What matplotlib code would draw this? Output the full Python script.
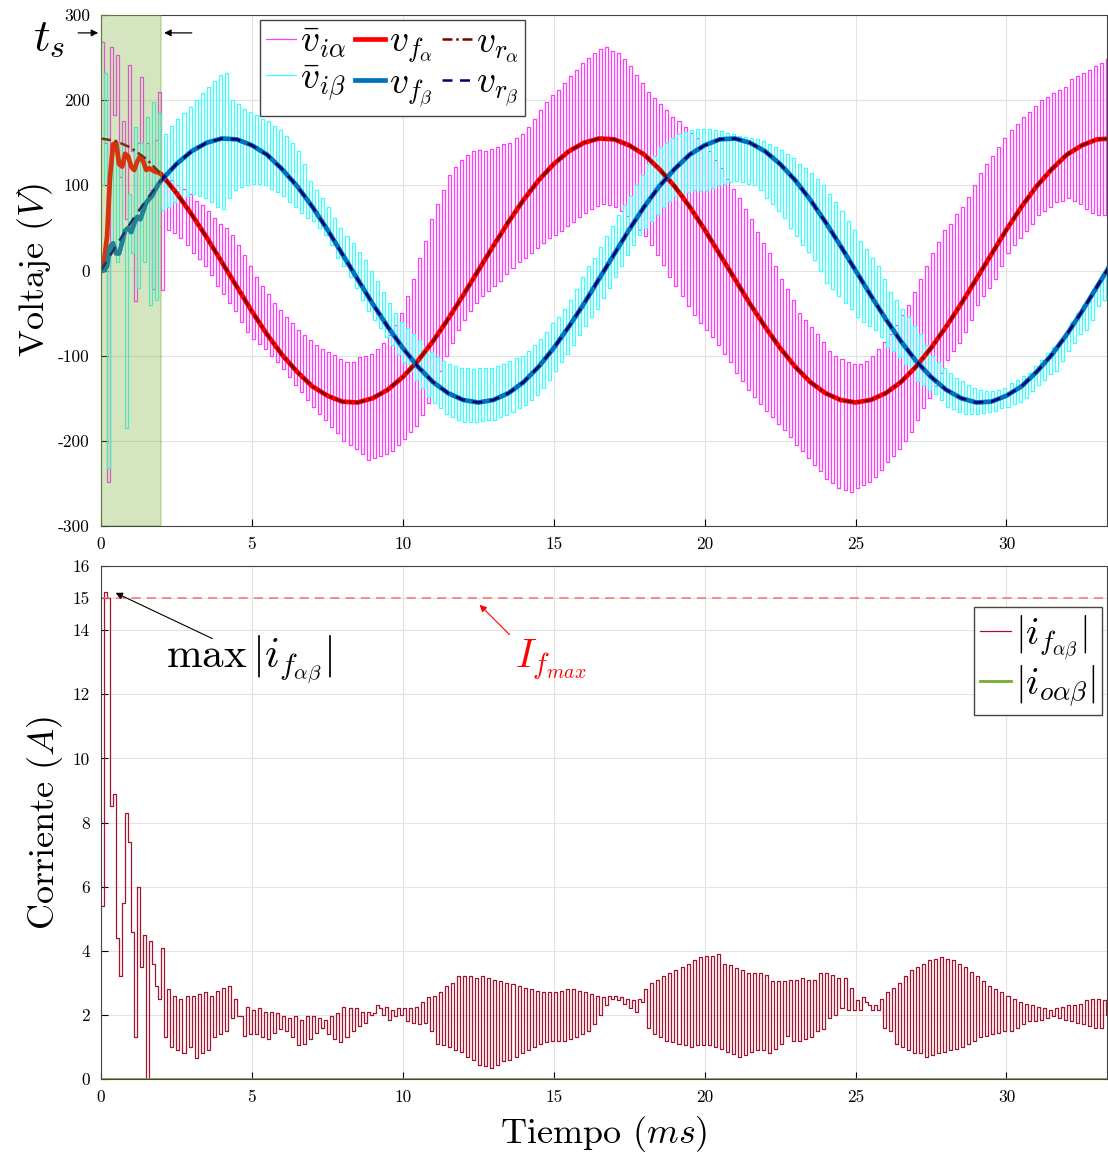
import numpy as np
import matplotlib
matplotlib.use("Agg")
import matplotlib.pyplot as plt

plt.rcParams["font.family"] = "serif"
plt.rcParams["font.serif"] = ["cmr10"]
plt.rcParams["mathtext.fontset"] = "cm"
plt.rcParams["axes.unicode_minus"] = False

# sample period of the inverter signals (ms)
sample_ms = 0.1

# reference voltages, read every 0.5 ms
t_ref = np.arange(0, 34.0, 0.5)
vr_alpha = [155, 152, 144, 131, 113, 91, 66, 39, 10, -19,
            -48, -75, -99, -119, -136, -147, -154, -155, -150, -140,
            -125, -106, -83, -57, -29, 0, 29, 57, 83, 106,
            125, 140, 150, 155, 154, 147, 136, 119, 99, 75,
            48, 19, -10, -39, -66, -91, -113, -131, -144, -152,
            -155, -152, -144, -131, -113, -91, -66, -39, -10, 19,
            48, 75, 99, 119, 136, 147, 154, 155]
vr_beta = [0, 29, 57, 83, 106, 125, 140, 150, 155, 154,
           147, 136, 119, 99, 75, 48, 19, -10, -39, -66,
           -91, -113, -131, -144, -152, -155, -152, -144, -131, -113,
           -91, -66, -39, -10, 19, 48, 75, 99, 119, 136,
           147, 154, 155, 150, 140, 125, 106, 83, 57, 29,
           0, -29, -57, -83, -106, -125, -140, -150, -155, -154,
           -147, -136, -119, -99, -75, -48, -19, 10]

# filter voltages during the start-up transient (0 - 1.9 ms, every 0.1 ms)
t_start = np.arange(0, 2.0, 0.1)
vf_alpha_start = [0, 10, 40, 110, 148, 150, 125, 122, 137, 134,
                  122, 118, 128, 134, 128, 118, 120, 118, 116, 115]
vf_beta_start = [0, 0, 5, 28, 32, 20, 20, 33, 47, 50,
                 45, 55, 63, 60, 70, 80, 84, 88, 95, 101]

# averaged inverter voltages, one value per sample (rows of 1 ms)
vi_alpha = [
    268, 150, -248, 262, 183, 253, 110, 175, 60, 241,
    140, -36, 150, 227, 120, 150, 95, -22, 153, 210,
    -23, 112, 47, 106, 44, 100, 38, 96, 30, 90,
    20, 82, 14, 77, 5, 70, -5, 62, -18, 55,
    -28, 50, -38, 42, -48, 30, -60, 18, -72, 5,
    -80, -8, -86, -18, -92, -28, -100, -38, -108, -46,
    -116, -55, -125, -62, -135, -70, -143, -76, -152, -82,
    -160, -88, -168, -92, -176, -96, -184, -99, -191, -104,
    -200, -108, -205, -108, -210, -102, -215, -100, -222, -98,
    -220, -92, -218, -85, -216, -76, -212, -64, -205, -50,
    -198, -30, -190, -10, -182, 15, -170, 35, -155, 60,
    -135, 78, -118, 95, -100, 112, -85, 122, -70, 130,
    -58, 136, -47, 140, -38, 142, -30, 140, -24, 143,
    -18, 145, -12, 148, -4, 150, 3, 155, 10, 160,
    15, 168, 20, 178, 26, 188, 32, 198, 38, 206,
    42, 212, 46, 220, 52, 228, 57, 236, 63, 244,
    68, 250, 72, 255, 76, 260, 78, 262, 77, 258,
    75, 255, 70, 248, 64, 240, 57, 230, 48, 220,
    40, 210, 30, 203, 18, 196, 6, 188, -8, 180,
    -18, 175, -30, 168, -42, 162, -52, 155, -62, 148,
    -70, 140, -78, 130, -88, 120, -98, 108, -108, 96,
    -120, 85, -130, 72, -140, 60, -148, 45, -157, 32,
    -165, 20, -172, 5, -180, -10, -187, -22, -195, -35,
    -205, -50, -212, -58, -220, -66, -228, -75, -236, -84,
    -245, -95, -250, -100, -255, -104, -258, -108, -260, -110,
    -255, -110, -252, -106, -248, -100, -242, -92, -234, -84,
    -225, -75, -218, -64, -210, -52, -200, -40, -190, -25,
    -175, -10, -162, 5, -150, 20, -136, 34, -120, 48,
    -105, 55, -95, 66, -85, 75, -72, 86, -58, 100,
    -40, 115, -30, 125, -20, 135, -10, 145, 5, 155,
    20, 165, 30, 172, 38, 180, 46, 186, 55, 193,
    65, 200, 70, 204, 75, 208, 80, 212, 82, 216,
    85, 225, 82, 228, 78, 232, 72, 236, 68, 240,
    65, 244, 65, 248,
]
vi_beta = [
    100, 232, -232, 30, 140, 10, 150, 40, -185, 90,
    20, 168, -20, 150, 10, 180, -40, 198, -35, 185,
    71, 160, 75, 170, 80, 178, 85, 185, 88, 192,
    90, 200, 88, 208, 85, 215, 80, 222, 75, 230,
    72, 232, 85, 200, 95, 195, 98, 190, 100, 186,
    102, 182, 102, 178, 100, 175, 96, 170, 92, 165,
    88, 158, 80, 150, 75, 140, 68, 125, 62, 105,
    58, 95, 50, 85, 42, 75, 30, 62, 15, 50,
    5, 40, -8, 32, -20, 22, -35, 12, -48, 0,
    -58, -12, -68, -25, -78, -38, -88, -50, -98, -60,
    -108, -68, -118, -75, -128, -82, -138, -90, -148, -96,
    -155, -102, -162, -106, -168, -110, -172, -112, -176, -115,
    -178, -115, -178, -116, -178, -115, -177, -115, -176, -114,
    -175, -112, -172, -110, -170, -106, -166, -103, -162, -100,
    -158, -95, -152, -88, -146, -80, -138, -72, -128, -62,
    -118, -55, -108, -45, -98, -35, -88, -22, -76, -8,
    -65, 5, -55, 15, -45, 28, -32, 40, -20, 52,
    -8, 65, 5, 77, 18, 88, 30, 100, 42, 112,
    50, 125, 58, 135, 66, 145, 74, 150, 82, 155,
    88, 160, 90, 163, 92, 165, 94, 166, 95, 166,
    95, 166, 97, 165, 100, 164, 102, 162, 104, 160,
    105, 158, 104, 157, 102, 156, 100, 154, 94, 152,
    85, 148, 78, 145, 70, 141, 62, 137, 50, 132,
    40, 125, 30, 120, 22, 114, 12, 108, 0, 100,
    -15, 90, -22, 80, -30, 70, -38, 58, -45, 48,
    -55, 35, -60, 25, -65, 15, -70, 5, -78, -10,
    -90, -25, -95, -35, -102, -45, -110, -55, -118, -65,
    -130, -75, -135, -88, -140, -100, -145, -108, -152, -115,
    -160, -120, -163, -126, -166, -130, -168, -135, -168, -138,
    -168, -140, -167, -141, -166, -141, -165, -140, -162, -138,
    -160, -132, -157, -128, -154, -124, -150, -120, -142, -112,
    -135, -105, -128, -97, -122, -90, -118, -85, -106, -75,
    -95, -60, -85, -50, -75, -40, -70, -35, -58, -20,
    -42, -8, -35, 5,
]

# filter current magnitude, one value per sample (rows of 1 ms)
if_mag = [
    5.4, 15.2, 15.0, 8.5, 8.9, 4.4, 3.2, 5.5, 8.3, 7.4,
    4.6, 1.3, 6.0, 3.5, 4.5, 0.0, 4.3, 3.6, 2.9, 2.5,
    4.1, 1.3, 2.8, 1.0, 2.6, 0.9, 2.5, 0.8, 2.6, 1.0,
    2.6, 0.65, 2.65, 0.8, 2.7, 0.9, 2.6, 1.3, 2.75, 1.4,
    2.85, 1.5, 2.9, 1.9, 2.5, 1.95, 1.95, 1.35, 2.25, 1.4,
    2.15, 1.4, 2.2, 1.3, 2.1, 1.25, 2.1, 1.45, 2.05, 1.55,
    1.95, 1.5, 1.9, 1.3, 1.95, 1.05, 1.85, 1.1, 1.95, 1.25,
    1.95, 1.45, 1.9, 1.6, 1.85, 1.4, 1.95, 1.25, 2.05, 1.15,
    2.25, 1.3, 2.2, 1.5, 2.2, 1.65, 2.1, 1.75, 2.1, 2.0,
    2.05, 2.3, 2.2, 2.0, 2.25, 1.85, 2.15, 1.95, 2.2, 2.0,
    2.2, 1.8, 2.2, 1.75, 2.25, 1.7, 2.4, 1.75, 2.55, 1.5,
    2.6, 1.1, 2.7, 1.05, 2.9, 1.0, 3.0, 0.9, 3.2, 0.85,
    3.2, 0.7, 3.2, 0.6, 3.15, 0.45, 3.2, 0.4, 3.15, 0.35,
    3.1, 0.45, 3.05, 0.55, 3.0, 0.6, 2.95, 0.7, 2.9, 0.8,
    2.85, 0.9, 2.8, 1.0, 2.75, 1.1, 2.7, 1.15, 2.7, 1.2,
    2.7, 1.2, 2.75, 1.2, 2.8, 1.25, 2.8, 1.3, 2.75, 1.4,
    2.7, 1.5, 2.65, 1.7, 2.6, 2.0, 2.55, 2.3, 2.6, 2.5,
    2.6, 2.45, 2.55, 2.35, 2.5, 2.2, 2.45, 2.1, 2.5, 2.4,
    2.8, 1.6, 3.0, 1.4, 3.1, 1.3, 3.2, 1.2, 3.3, 1.15,
    3.4, 1.1, 3.5, 1.05, 3.6, 1.0, 3.7, 1.05, 3.8, 1.05,
    3.85, 1.05, 3.85, 1.0, 3.9, 0.95, 3.6, 0.85, 3.55, 0.78,
    3.45, 0.7, 3.4, 0.75, 3.3, 0.85, 3.3, 0.9, 3.3, 0.9,
    3.25, 0.8, 3.05, 0.95, 3.05, 1.1, 3.05, 1.35, 3.1, 1.2,
    3.1, 1.2, 3.15, 1.25, 3.1, 1.3, 3.1, 1.5, 3.3, 1.55,
    3.3, 1.9, 3.25, 2.0, 3.15, 2.2, 3.15, 2.15, 2.85, 2.15,
    2.45, 2.15, 2.55, 2.4, 2.3, 2.15, 2.3, 2.15, 2.5, 1.6,
    2.7, 1.5, 2.85, 1.1, 3.0, 1.0, 3.2, 0.9, 3.4, 0.8,
    3.5, 0.8, 3.6, 0.7, 3.7, 0.75, 3.75, 0.8, 3.8, 0.85,
    3.75, 0.9, 3.7, 0.95, 3.6, 1.0, 3.5, 1.1, 3.35, 1.2,
    3.2, 1.3, 3.05, 1.35, 2.9, 1.4, 2.8, 1.45, 2.7, 1.5,
    2.6, 1.5, 2.5, 1.6, 2.4, 1.7, 2.35, 1.8, 2.3, 1.8,
    2.25, 1.85, 2.2, 1.9, 2.15, 1.95, 2.2, 1.9, 2.25, 1.85,
    2.3, 1.8, 2.3, 1.75, 2.35, 1.7, 2.45, 1.65, 2.5, 1.6,
    2.5, 1.6, 2.45, 2.0,
]
# output current magnitude stays at zero
io_mag = [0.0] * len(if_mag)

if_max = 15
t_settle = 2.0
t_end = 33.33

t_samp = np.arange(len(vi_alpha)) * sample_ms
t_ref = t_ref[: len(vr_alpha)]
after = t_ref >= t_settle
t_f = np.concatenate([t_start, t_ref[after]])
vf_alpha = np.concatenate([vf_alpha_start, np.array(vr_alpha)[after]])
vf_beta = np.concatenate([vf_beta_start, np.array(vr_beta)[after]])

fig = plt.figure(figsize=(11.08, 11.55), dpi=100)
W, H = 1108, 1155
ax1 = fig.add_axes([101 / W, 1 - 526 / H, 1006 / W, 511 / H])
ax2 = fig.add_axes([101 / W, 1 - 1079 / H, 1006 / W, 513 / H])

for ax in (ax1, ax2):
    ax.grid(True, color="#e3e3e3", lw=0.8)
    ax.set_axisbelow(True)
    ax.tick_params(direction="in", length=5, labelsize=12.5, pad=8,
                   top=False, right=False)
    for s in ax.spines.values():
        s.set_color("#444444")
        s.set_linewidth(0.8)
    ax.set_xlim(0, t_end)
    ax.set_xticks(np.arange(0, 31, 5))

# --- voltages ---
l_via, = ax1.step(t_samp, vi_alpha, where="post", color="#ff3cff", lw=0.9)
l_vib, = ax1.step(t_samp, vi_beta, where="post", color="#3cffff", lw=0.9)
l_vfa, = ax1.plot(t_f, vf_alpha, color="#ff0000", lw=3.4)
l_vfb, = ax1.plot(t_f, vf_beta, color="#0072bd", lw=3.4)
l_vra, = ax1.plot(t_ref, vr_alpha, color="#7a0000", lw=1.8, ls=(0, (4, 1.5, 1, 1.5)))
l_vrb, = ax1.plot(t_ref, vr_beta, color="#00006e", lw=1.8, ls=(0, (4, 3)))
ax1.axvspan(0, t_settle, facecolor="#77ac30", alpha=0.3, edgecolor="#77ac30",
            lw=1.5, zorder=5)
ax1.set_ylim(-300, 300)
ax1.set_yticks(np.arange(-300, 301, 100))
ax1.set_ylabel(r"Voltaje $(V)$", fontsize=26)
ax1.yaxis.set_label_coords(-0.046, 0.5)
ax1.legend([l_via, l_vib, l_vfa, l_vfb, l_vra, l_vrb],
           [r"$\bar{v}_{i\alpha}$", r"$\bar{v}_{i\beta}$",
            r"$v_{f_\alpha}$", r"$v_{f_\beta}$",
            r"$v_{r_\alpha}$", r"$v_{r_\beta}$"],
           ncol=3, loc="upper left", bbox_to_anchor=(0.158, 0.99),
           fontsize=27, fancybox=False, framealpha=1, edgecolor="#444444",
           handlelength=0.8, handletextpad=0.12, columnspacing=0.22,
           labelspacing=0.05, borderpad=0.15, borderaxespad=0)

arrow_kw = dict(arrowstyle="-|>", color="black", lw=0.9, mutation_scale=10)
ax1.annotate("", xy=(0, 279), xytext=(-0.85, 279), arrowprops=arrow_kw,
             annotation_clip=False)
ax1.annotate("", xy=(t_settle, 279), xytext=(3.1, 279), arrowprops=arrow_kw,
             annotation_clip=False)
ax1.text(-1.72, 272, r"$t_s$", fontsize=33, ha="center", va="center")

# --- currents ---
l_if, = ax2.step(t_samp, if_mag, where="post", color="#a2142f", lw=0.9)
l_io, = ax2.plot(t_samp, io_mag, color="#77ac30", lw=2)
ax2.axhline(if_max, color="#ff6b6b", lw=1.1, ls=(0, (6, 4)))
ax2.set_ylim(0, 16)
ax2.set_yticks([0, 2, 4, 6, 8, 10, 12, 14, 15, 16])
ax2.set_ylabel(r"Corriente $(A)$", fontsize=26)
ax2.yaxis.set_label_coords(-0.036, 0.5)
ax2.set_xlabel(r"Tiempo $(ms)$", fontsize=26)
ax2.xaxis.set_label_coords(0.5, -0.068)
ax2.legend([l_if, l_io], [r"$|i_{f_{\alpha\beta}}|$", r"$|i_{o\alpha\beta}|$"],
           loc="upper right", bbox_to_anchor=(0.995, 0.92), fontsize=28,
           fancybox=False, framealpha=1, edgecolor="#444444",
           handlelength=0.8, handletextpad=0.12, labelspacing=0.05,
           borderpad=0.15, borderaxespad=0)

ax2.annotate("", xy=(0.4, 15.2), xytext=(3.77, 13.7),
             arrowprops=dict(arrowstyle="-|>", color="black", lw=0.8,
                             mutation_scale=10))
ax2.text(4.9, 13.05, r"$\max\,|i_{f_{\alpha\beta}}|$", fontsize=31,
         ha="center", va="center")
ax2.annotate("", xy=(12.48, 14.85), xytext=(13.6, 13.8),
             arrowprops=dict(arrowstyle="-|>", color="#ff0000", lw=0.8,
                             mutation_scale=10))
ax2.text(14.9, 13.05, r"$I_{f_{max}}$", fontsize=29, ha="center",
         va="center", color="#ff0000")

fig.savefig("out.png", dpi=100)
